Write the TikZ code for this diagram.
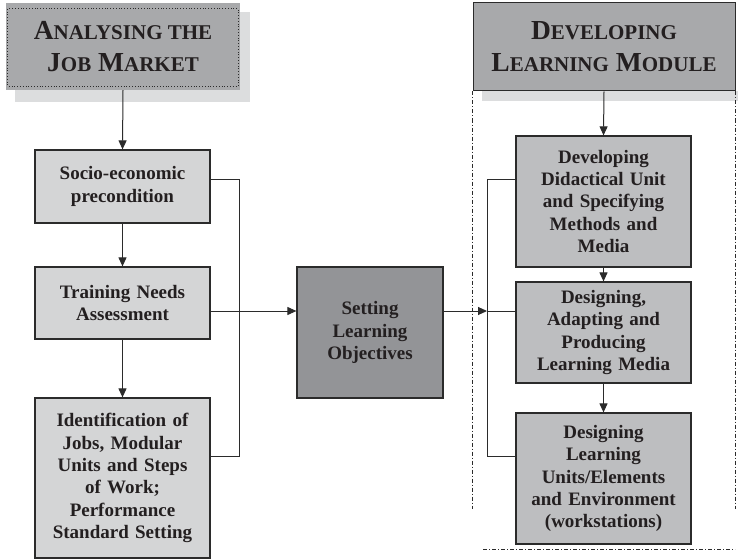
\documentclass[tikz,border=0pt]{standalone}
\usepackage{fontspec}
\setmainfont{Liberation Serif}
\usetikzlibrary{calc}
\usetikzlibrary{arrows.meta}
\definecolor{HdrGray}{HTML}{A8A9AB}
\definecolor{ShadowGray}{HTML}{DCDDDE}
\definecolor{LeftGray}{HTML}{D4D5D6}
\definecolor{MidGray}{HTML}{BDBEC0}
\definecolor{DarkGray}{HTML}{939497}
\definecolor{LineDark}{HTML}{2B2B2B}
\definecolor{TextDark}{HTML}{231F20}
\newcommand{\hdrbig}[1]{{\fontsize{27.5}{32}\selectfont #1}}
\newcommand{\hdrsmall}[1]{{\fontsize{21}{32}\selectfont #1}}

\begin{document}
\begin{tikzpicture}[x=1pt,y=-1pt]
    \tikzstyle{b}=[draw=LineDark, line width=1.2pt, text=TextDark, align=center, text width=165pt, minimum width=175pt, inner sep=1pt, font=\bfseries\fontsize{19}{22.3}\selectfont]
    \tikzstyle{h}=[text=TextDark, align=center, font=\bfseries\fontsize{27.5}{32}\selectfont]
    \tikzstyle{arr}=[-{Triangle[length=9pt,width=8pt]}, line width=1pt, draw=LineDark]
    \tikzstyle{ln}=[line width=1pt, draw=LineDark]
    \tikzstyle{dd}=[line width=0.8pt, draw=LineDark, dash pattern=on 4pt off 2pt on 1pt off 2pt]

    \useasboundingbox (0,0) rectangle (738,559);

    % left header
    \fill[ShadowGray] (15,12) rectangle (250,102);
    \node[h, fill=HdrGray, minimum width=234pt, minimum height=87pt] (hdrL) at (123,46.5)
        {\hdrbig{A}\hdrsmall{NALYSING THE}\\\hdrbig{J}\hdrsmall{OB} \hdrbig{M}\hdrsmall{ARKET}};
    \draw[LineDark, dotted, line width=0.8pt] ($(hdrL.north west)+(2,6)$) rectangle ($(hdrL.south east)+(-2,-4)$);

    % right header
    \fill[ShadowGray] (482,91) rectangle (738,101);
    \node[h, fill=HdrGray, draw=LineDark, line width=1pt, minimum width=262pt, minimum height=88pt] (hdrR) at (604,47)
        {\hdrbig{D}\hdrsmall{EVELOPING}\\\hdrbig{L}\hdrsmall{EARNING} \hdrbig{M}\hdrsmall{ODULE}};

    % module frame
    \draw[dd] (hdrR.south west) -- ++(0,417);
    \draw[dd] (hdrR.south east) -- ++(0,417);
    \draw[dd] (483,549) -- (735,549);

    % analysing column
    \node[b, fill=LeftGray, minimum height=73pt] (socio) at (122.5,186.5) {Socio-economic\\precondition};
    \node[b, fill=LeftGray, minimum height=72pt] (tna) at (122.5,303) {Training Needs\\Assessment};
    \node[b, fill=LeftGray, minimum height=160pt] (ident) at (122.5,478)
        {Identification of\\Jobs, Modular\\Units and Steps\\of Work;\\Performance\\Standard Setting};

    \draw[arr] (hdrL.south) -- (socio.north);
    \draw[arr] (socio) -- (tna);
    \draw[arr] (tna) -- (ident);

    % objectives
    \node[b, fill=DarkGray, minimum width=146pt, text width=140pt, minimum height=131pt] (obj) at (370,332.5)
        {Setting\\Learning\\Objectives};

    % module column
    \node[b, fill=MidGray, minimum height=131pt] (devel) at (603.5,201.5)
        {Developing\\Didactical Unit\\and Specifying\\Methods and\\Media};
    \node[b, fill=MidGray, minimum height=101pt] (media) at (603.5,332.5)
        {Designing,\\Adapting and\\Producing\\Learning Media};
    \node[b, fill=MidGray, minimum height=131pt] (units) at (603.5,478.5)
        {Designing\\Learning\\Units/Elements\\and Environment\\(workstations)};

    \draw[arr] (hdrR.south) -- (devel.north);
    \draw[arr] (devel) -- (media);
    \draw[arr] (media) -- (units);

    % collecting lines
    \coordinate (top) at (0,179);
    \coordinate (flow) at (0,311);
    \coordinate (bot) at (0,456);
    \coordinate (busL) at (239,0);
    \coordinate (busR) at (487,0);

    \draw[ln] (socio.east |- top) -- (busL |- top) -- (busL |- bot) -- (ident.east |- bot);
    \draw[arr] (tna.east |- flow) -- (obj.west |- flow);
    \draw[arr] (obj.east |- flow) -- (busR |- flow);
    \draw[ln] (devel.west |- top) -- (busR |- top) -- (busR |- bot) -- (units.west |- bot);
    \draw[ln] (busR |- flow) -- (media.west |- flow);
\end{tikzpicture}
\end{document}
